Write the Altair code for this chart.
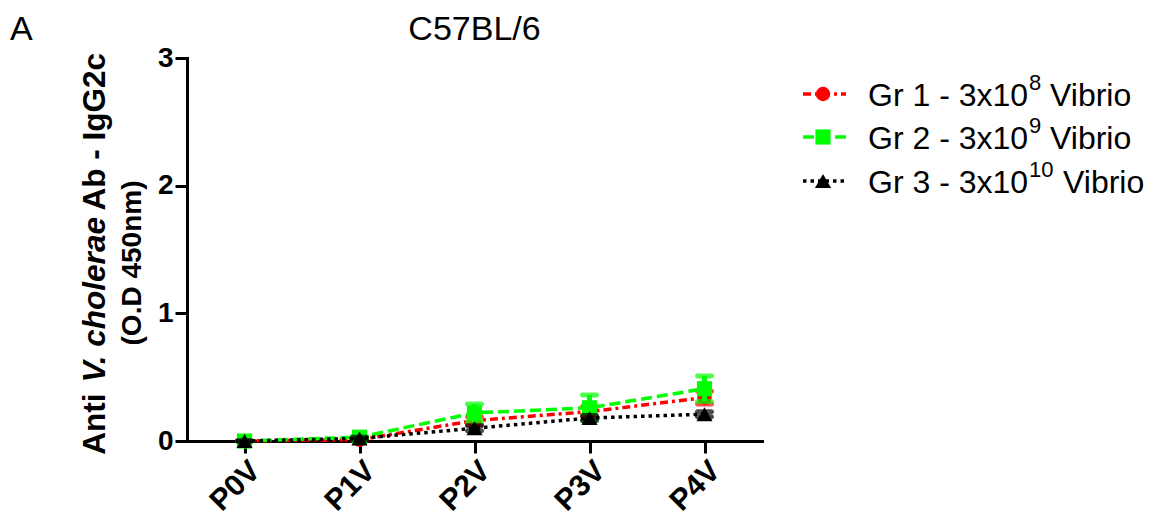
import altair as alt
import pandas as pd

timepoints = ["P0V", "P1V", "P2V", "P3V", "P4V"]
groups = ["Gr 1", "Gr 2", "Gr 3"]
gr1_mean = [0.00, 0.01, 0.16, 0.23, 0.34]
gr1_sem = [0.00, 0.01, 0.03, 0.04, 0.05]
gr2_mean = [0.00, 0.03, 0.22, 0.26, 0.41]
gr2_sem = [0.00, 0.01, 0.07, 0.10, 0.10]
gr3_mean = [0.00, 0.02, 0.10, 0.18, 0.21]
gr3_sem = [0.00, 0.01, 0.02, 0.02, 0.02]
legend_base = ["Gr 1 - 3x10", "Gr 2 - 3x10", "Gr 3 - 3x10"]
legend_sup = ["8", "9", "10"]
legend_tail = ["Vibrio", "Vibrio", "Vibrio"]

FONT = "Liberation Sans"
W, H = 575, 383
OX, OY = 187, 58  # plot origin on page

rows = []
for g, m, s in zip(groups, [gr1_mean, gr2_mean, gr3_mean], [gr1_sem, gr2_sem, gr3_sem]):
    for t, mv, sv in zip(timepoints, m, s):
        rows.append({"group": g, "tp": t, "mean": mv, "lo": mv - sv, "hi": mv + sv})
df = pd.DataFrame(rows)

styles = {
    "Gr 1": dict(color="#ff0000", dash=[8, 4, 3, 4], shape="circle", size=210, width=3.5),
    "Gr 2": dict(color="#00ff00", dash=[11, 5], shape="square", size=230, width=3.5),
    "Gr 3": dict(color="#000000", dash=[3.5, 4], shape="triangle-up", size=260, width=3.5),
}

xenc = alt.X(
    "tp:N",
    sort=timepoints,
    scale=alt.Scale(type="point", padding=0.5),
    axis=alt.Axis(
        title=None, labelAngle=-45, labelFont=FONT, labelFontWeight="bold",
        labelFontSize=30, labelColor="black", domainColor="black", domainWidth=3,
        tickColor="black", tickWidth=3, tickSize=12, labelPadding=2, grid=False,
        domainCap="square",
    ),
)
yscale = alt.Scale(domain=[0, 3], nice=False, zero=True)
yaxis = alt.Axis(
    title=None, values=[0, 1, 2, 3], format="d", labelFont=FONT, labelFontWeight="bold",
    labelFontSize=28, labelColor="black", domainColor="black", domainWidth=3,
    tickColor="black", tickWidth=3, tickSize=12, labelPadding=2, grid=False,
    domainCap="square",
)


def Y(field):
    return alt.Y(field, scale=yscale, axis=yaxis)


base = alt.Chart(df)
layers = []
for g in groups:
    st = styles[g]
    sub = base.transform_filter(alt.datum.group == g)
    line = sub.mark_line(color=st["color"], strokeDash=st["dash"], strokeWidth=st["width"]).encode(
        x=xenc, y=Y("mean:Q")
    )
    err = sub.mark_rule(color=st["color"], strokeWidth=5).encode(x=xenc, y=Y("lo:Q"), y2="hi:Q")
    cap_hi = sub.mark_tick(color=st["color"], orient="horizontal", size=19, thickness=5,
                           cornerRadius=2.5).encode(x=xenc, y=Y("hi:Q"))
    cap_lo = sub.mark_tick(color=st["color"], orient="horizontal", size=19, thickness=5,
                           cornerRadius=2.5).encode(x=xenc, y=Y("lo:Q"))
    pts = sub.mark_point(shape=st["shape"], size=st["size"], filled=True, opacity=1,
                         color=st["color"]).encode(x=xenc, y=Y("mean:Q"))
    layers += [line, err, cap_hi, cap_lo, pts]

one = alt.Data(values=[{"a": 1}])


def txt(text, px, py, size, weight="normal", style="normal", align="left",
        baseline="alphabetic", angle=0):
    return alt.Chart(one).mark_text(
        text=text, font=FONT, fontSize=size, fontWeight=weight, fontStyle=style,
        align=align, baseline=baseline, angle=angle, color="black",
    ).encode(x=alt.value(px - OX), y=alt.value(py - OY))


# Panel letter and title
layers.append(txt("A", 10, 40, 34))
layers.append(txt("C57BL/6", OX + W / 2, 40, 34, align="center"))

# Y-axis title (two lines, rotated, with italic species name)
f1 = 31.5
pieces = [("Anti ", "normal", 2.30), ("V. cholerae", "italic", 5.45), (" Ab - IgG2c", "normal", 5.28)]
total = sum(p[2] for p in pieces) * f1
pos = OY + H / 2 + total / 2
for t, sty, w in pieces:
    layers.append(txt(t, 96, pos, f1, weight="bold", style=sty, baseline="middle", angle=270))
    pos -= w * f1
layers.append(txt("(O.D 450nm)", 133, 263, 28, weight="bold", align="center",
                  baseline="middle", angle=270))

# Legend
row_y = [94, 137, 181]
for i, g in enumerate(groups):
    st = styles[g]
    cy = row_y[i]
    layers.append(
        alt.Chart(one).mark_rule(color=st["color"], strokeDash=st["dash"], strokeWidth=st["width"]).encode(
            x=alt.value(803 - OX), x2=alt.value(846 - OX), y=alt.value(cy - OY)
        )
    )
    layers.append(
        alt.Chart(one).mark_point(shape=st["shape"], size=st["size"], filled=True, opacity=1,
                                  color=st["color"]).encode(x=alt.value(823 - OX), y=alt.value(cy - OY))
    )
    layers.append(txt(legend_base[i], 868, cy + 12, 32))
    layers.append(txt(legend_sup[i], 1029, cy - 4, 22))
    tail_x = 1050 if len(legend_sup[i]) == 1 else 1063
    layers.append(txt(legend_tail[i], tail_x, cy + 12, 32))

chart = alt.layer(*layers).properties(
    width=W, height=H,
    autosize=alt.AutoSizeParams(type="none"),
    padding={"left": OX - 8, "top": OY - 8, "right": 1150 - OX - W, "bottom": 517 - OY - H},
    background="white",
).configure_view(stroke=None)

chart.save("out.html", embed_options={"renderer": "svg", "actions": False})
